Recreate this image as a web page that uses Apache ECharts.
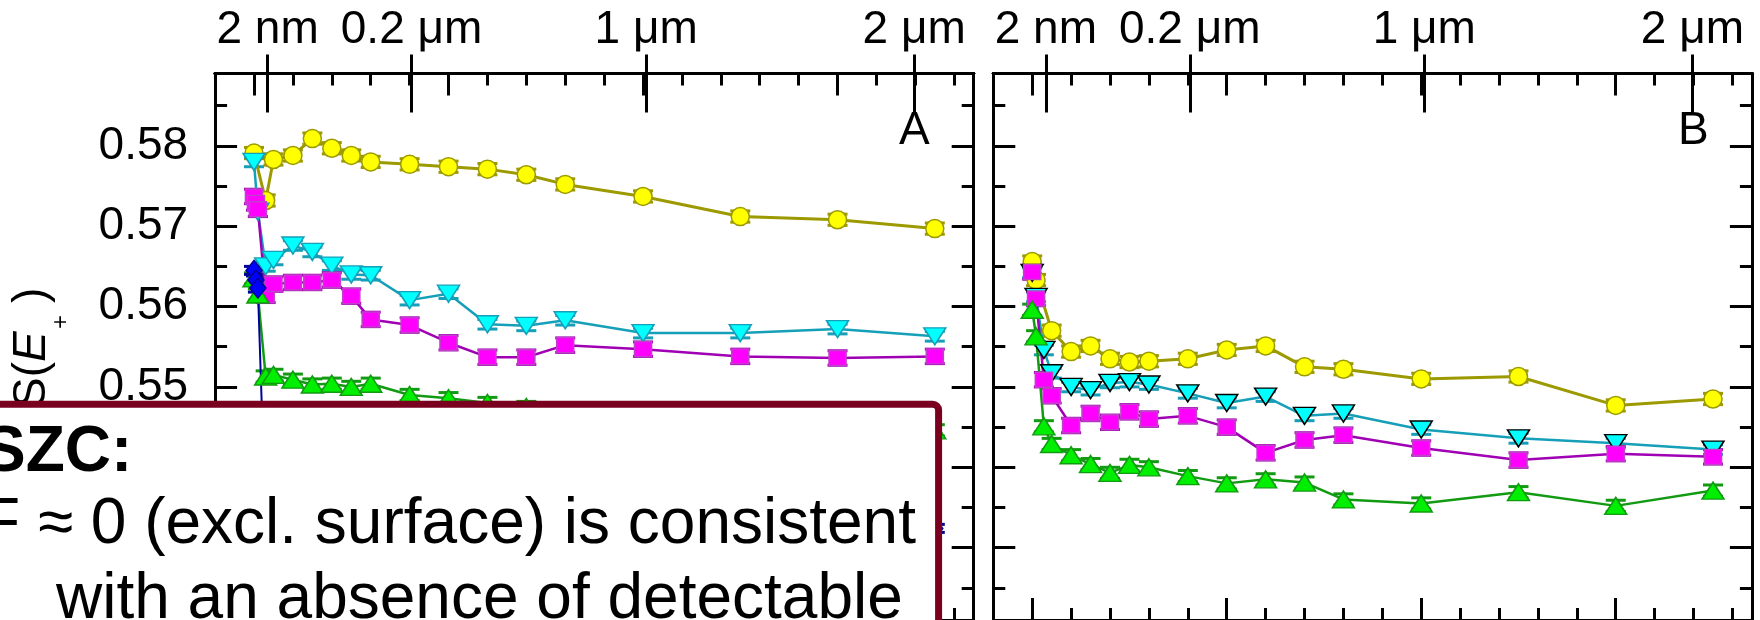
<!DOCTYPE html>
<html><head><meta charset="utf-8">
<script src="https://cdn.jsdelivr.net/npm/echarts@6/dist/echarts.min.js"></script>
<style>html,body{margin:0;padding:0;background:#fff}#c{width:1760px;height:620px}</style>
</head><body><div id="c"></div>
<script>
// ---- data (positron energy in keV, S parameter) ----
const energies = [0, 0.05, 0.1, 0.3, 0.5, 1, 1.5, 2, 2.5, 3, 4, 5, 6, 7, 8, 10, 12.5, 15, 17.5];

const yellowA  = [0.5791, null, null, 0.5732, 0.5783, 0.5788, 0.5809, 0.5797, 0.5788, 0.5780, 0.5777, 0.5774, 0.5771, 0.5764, 0.5752, 0.5737, 0.5712, 0.5708, 0.5697];
const cyanA    = [0.5780, null, 0.5718, 0.5650, 0.5658, 0.5676, 0.5668, 0.5651, 0.5640, 0.5639, 0.5608, 0.5616, 0.5578, 0.5576, 0.5583, 0.5567, 0.5567, 0.5572, 0.5563];
const magentaA = [0.5737, 0.5729, 0.5721, 0.5614, 0.5628, 0.5630, 0.5630, 0.5633, 0.5613, 0.5584, 0.5577, 0.5555, 0.5537, 0.5537, 0.5552, 0.5547, 0.5538, 0.5536, 0.5538];
const greenA   = [0.5635, null, 0.5615, 0.5513, 0.5515, 0.5509, 0.5503, 0.5504, 0.5500, 0.5504, 0.5490, 0.5486, 0.5480, 0.5475, 0.5470, 0.5462, 0.5455, 0.5450, 0.5446];
const blueA    = [0.5645, 0.5633, 0.5623, 0.5330, 0.5328, 0.5331, 0.5327, 0.5329, 0.5326, 0.5328, 0.5325, 0.5327, 0.5324, 0.5326, 0.5325, 0.5323, 0.5325, 0.5322, 0.5324];

const yellowB  = [0.5656, null, 0.5633, null, 0.5570, 0.5544, 0.5551, 0.5535, 0.5531, 0.5532, 0.5535, 0.5546, 0.5551, 0.5525, 0.5522, 0.5510, 0.5513, 0.5477, 0.5485];
const cyanB    = [0.5642, null, 0.5612, 0.5546, 0.5517, 0.5500, 0.5496, 0.5505, 0.5506, 0.5503, 0.5492, 0.5480, 0.5488, 0.5464, 0.5467, 0.5447, 0.5436, 0.5430, 0.5422];
const magentaB = [0.5643, null, 0.5610, 0.5509, 0.5489, 0.5452, 0.5467, 0.5456, 0.5469, 0.5460, 0.5464, 0.5450, 0.5418, 0.5434, 0.5440, 0.5424, 0.5409, 0.5417, 0.5413];
const greenB   = [0.5596, null, 0.5563, 0.5451, 0.5429, 0.5415, 0.5404, 0.5393, 0.5403, 0.5400, 0.5389, 0.5380, 0.5385, 0.5381, 0.5360, 0.5355, 0.5369, 0.5352, 0.5371];

const errYellow = 0.0007, errCyan = 0.0006, errMagenta = 0.0009, errGreen = 0.0007, errBlue = 0.0005;

// axis ticks / labels
const depthTicks  = [0.35, 4.05, 10.08, 16.97];
const depthLabels = ['2 nm', '0.2 μm', '1 μm', '2 μm'];
const xMajor = [0, 5, 10, 15];
const xMinor = [1, 2, 3, 4, 6, 7, 8, 9, 11, 12, 13, 14, 16, 17, 18];
const yMajor = [0.53, 0.54, 0.55, 0.56, 0.57, 0.58];
const yMinor = [0.525, 0.535, 0.545, 0.555, 0.565, 0.575, 0.585];

// ---- chart ----
const FONT = '"Liberation Sans", Arial, sans-serif';
const chart = echarts.init(document.getElementById('c'), null, {renderer: 'canvas'});

const grids = [
  {left: 215.1, top: 73.5, width: 758.6, height: 546.7},
  {left: 993.3, top: 73.5, width: 758.6, height: 546.7}
];

function xAx(g, pos, vals, len, inside, extra) {
  return Object.assign({
    gridIndex: g, type: 'value', position: pos, min: -1, max: 18.5,
    axisLine: {show: true, onZero: false, lineStyle: {color: '#000', width: 3}},
    axisTick: {show: true, inside: inside, length: len, customValues: vals, lineStyle: {color: '#000', width: 3}},
    axisLabel: {show: false}, splitLine: {show: false}
  }, extra || {});
}
function yAx(g, pos, vals, len, extra) {
  return Object.assign({
    gridIndex: g, type: 'value', position: pos, min: 0.521, max: 0.589,
    axisLine: {show: true, onZero: false, lineStyle: {color: '#000', width: 3}},
    axisTick: {show: true, inside: true, length: len, customValues: vals, lineStyle: {color: '#000', width: 3}},
    axisLabel: {show: false}, splitLine: {show: false}
  }, extra || {});
}

const xAxes = [], yAxes = [];
[0, 1].forEach(g => {
  xAxes.push(xAx(g, 'bottom', xMajor, 22, true));
  xAxes.push(xAx(g, 'bottom', xMinor, 12, true));
  xAxes.push(xAx(g, 'top', xMajor, 22, true));
  xAxes.push(xAx(g, 'top', xMinor, 12, true));
  xAxes.push(xAx(g, 'top', depthTicks, 39, true));
  xAxes.push(xAx(g, 'top', depthTicks, 19, false, {
    axisLabel: {
      show: true, customValues: depthTicks, margin: 20, color: '#000',
      fontFamily: FONT, fontSize: 46,
      formatter: v => {
        let bi = 0;
        depthTicks.forEach((t, i) => { if (Math.abs(t - v) < Math.abs(depthTicks[bi] - v)) bi = i; });
        return depthLabels[bi];
      }
    }
  }));
  yAxes.push(yAx(g, 'left', yMajor, 22, g === 0 ? {
    axisLabel: {show: true, customValues: yMajor, margin: 27, color: '#000', fontFamily: FONT, fontSize: 46,
      formatter: v => v.toFixed(2)}
  } : {}));
  yAxes.push(yAx(g, 'left', yMinor, 12));
  yAxes.push(yAx(g, 'right', yMajor, 22));
  yAxes.push(yAx(g, 'right', yMinor, 12));
});

function pts(vals) {
  const out = [];
  energies.forEach((e, i) => { if (vals[i] != null) out.push([e, vals[i]]); });
  return out;
}
function errRender(color) {
  return function (params, api) {
    const x = api.value(0), y = api.value(1), e = api.value(2);
    const a = api.coord([x, y + e]), b = api.coord([x, y - e]);
    const hw = 10;
    return {type: 'group', children: [
      {type: 'line', shape: {x1: a[0], y1: a[1], x2: b[0], y2: b[1]}, style: {stroke: color, lineWidth: 2}},
      {type: 'line', shape: {x1: a[0] - hw, y1: a[1], x2: a[0] + hw, y2: a[1]}, style: {stroke: color, lineWidth: 3}},
      {type: 'line', shape: {x1: b[0] - hw, y1: b[1], x2: b[0] + hw, y2: b[1]}, style: {stroke: color, lineWidth: 3}}
    ]};
  };
}

const STY = {
  yellow:  {symbol: 'circle',   size: 18,       line: '#9c9a00', fill: '#ffff00', border: '#9c9a00', lw: 3},
  cyan:    {symbol: 'triangle', size: [22, 17], rot: 180, line: '#169fb8', fill: '#00ffff', border: '#169fb8', lw: 2.5},
  cyanB:   {symbol: 'triangle', size: [22, 17], rot: 180, line: '#169fb8', fill: '#00ffff', border: '#000000', lw: 2.5},
  magenta: {symbol: 'rect',     size: [17, 15], line: '#a000b4', fill: '#ff00ff', border: '#c040c8', lw: 2.5},
  green:   {symbol: 'triangle', size: [22, 17], line: '#129a12', fill: '#00ee00', border: '#129a12', lw: 2.5},
  blue:    {symbol: 'diamond',  size: [16, 20], line: '#00009a', fill: '#0000ff', border: '#00009a', lw: 2}
};

const errSeries = [], lineSeries = [];
function add(g, vals, st, err) {
  const d = pts(vals);
  errSeries.push({
    type: 'custom', xAxisIndex: g * 6, yAxisIndex: g * 4, z: 1, silent: true,
    data: d.map(p => [p[0], p[1], err]), encode: {x: 0, y: 1},
    renderItem: errRender(st.line)
  });
  lineSeries.push({
    type: 'line', xAxisIndex: g * 6, yAxisIndex: g * 4, z: 3, silent: true,
    data: d, symbol: st.symbol, symbolSize: st.size, symbolRotate: st.rot || 0,
    showSymbol: true, showAllSymbol: true,
    lineStyle: {color: st.line, width: st.lw},
    itemStyle: {color: st.fill, borderColor: st.border, borderWidth: 1.5},
    emphasis: {disabled: true}
  });
}
add(0, yellowA, STY.yellow, errYellow);
add(0, cyanA, STY.cyan, errCyan);
add(0, magentaA, STY.magenta, errMagenta);
add(0, greenA, STY.green, errGreen);
add(0, blueA, STY.blue, errBlue);
add(1, yellowB, STY.yellow, errYellow);
add(1, cyanB, STY.cyanB, errCyan);
add(1, magentaB, STY.magenta, errMagenta);
add(1, greenB, STY.green, errGreen);

function txt(x, y, text, font, z) {
  return {type: 'text', x: x, y: y, z: z || 101,
    style: {text: text, font: font, fill: '#000', align: 'left', verticalAlign: 'middle',
            textAlign: 'left', textVerticalAlign: 'middle'}};
}

const graphic = [
  txt(899, 131, 'A', '46px ' + FONT, 50),
  txt(1678, 131, 'B', '46px ' + FONT, 50),
  {type: 'group', x: 48, y: 408, rotation: Math.PI / 2, z: 50, children: [
    txt(0, -16, 'S(', '46px ' + FONT, 50),
    txt(46, -16, 'E', 'italic 46px ' + FONT, 50),
    txt(79, 13, '+', '24px ' + FONT, 50),
    txt(105, -16, ')', '46px ' + FONT, 50)
  ]},
  {type: 'rect', z: 100, shape: {x: -20, y: 404.3, width: 958.6, height: 400, r: 6},
   style: {fill: '#ffffff', stroke: '#7a0020', lineWidth: 7}},
  txt(-17, 453.8, 'SZC:', 'bold 64px ' + FONT),
  txt(-19, 525.5, 'F ≈ 0 (excl. surface) is consistent', '64px ' + FONT),
  txt(56, 600, 'with an absence of detectable', '64px ' + FONT)
];

chart.setOption({
  animation: false,
  backgroundColor: '#ffffff',
  grid: grids,
  xAxis: xAxes,
  yAxis: yAxes,
  series: errSeries.concat(lineSeries),
  graphic: graphic
});
</script></body></html>
